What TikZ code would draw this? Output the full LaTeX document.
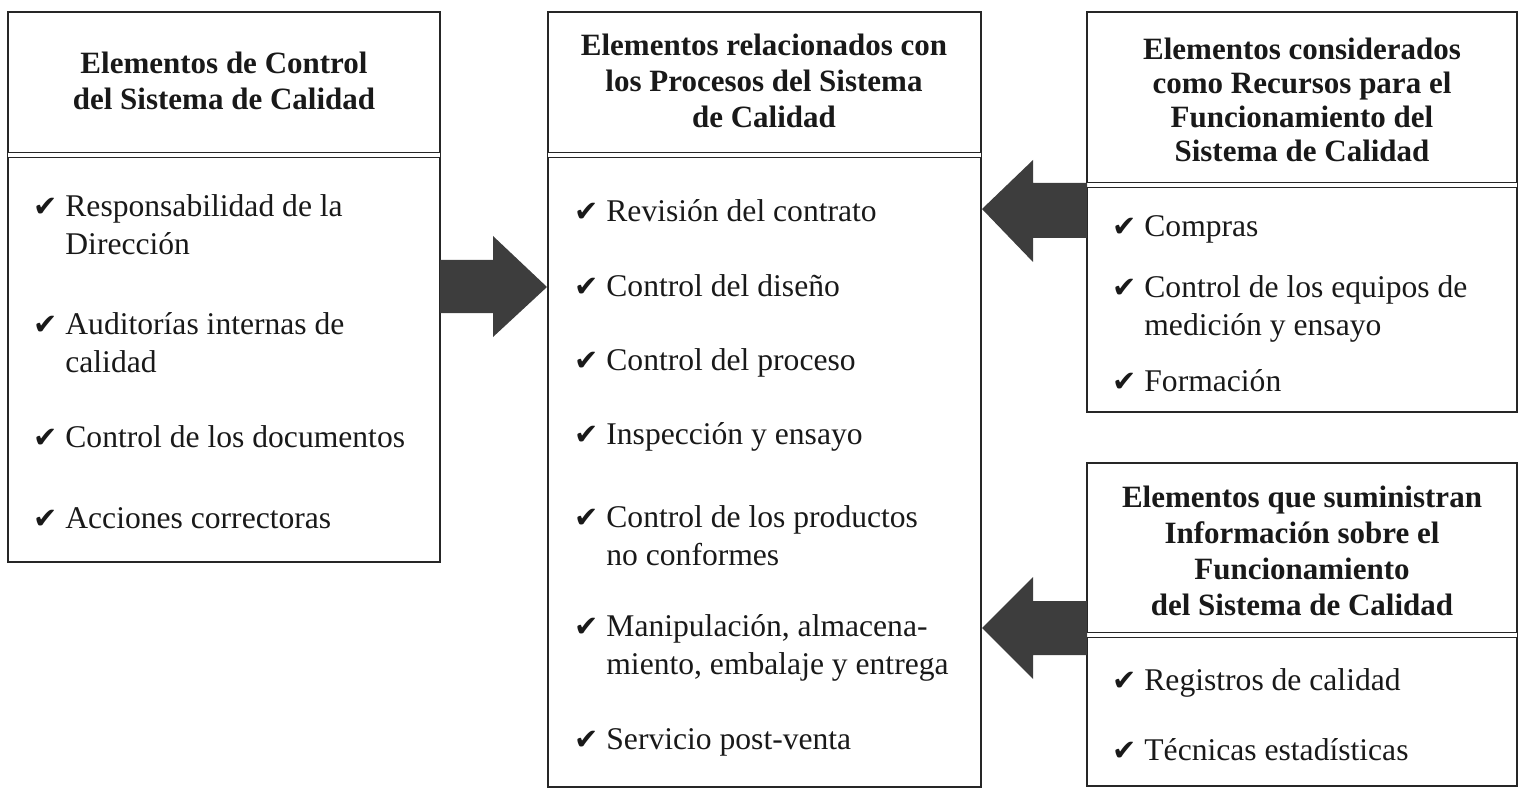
\documentclass[tikz,border=0pt]{standalone}
\usepackage{fontspec}
\setmainfont{Liberation Serif}
\newfontfamily\checkfont{DejaVu Sans}
\usetikzlibrary{calc}

\newcommand{\marca}{\makebox[16pt][l]{\checkfont\fontsize{14.5}{14.5}\selectfont ✔}}

\tikzset{
  caja/.style={draw=black!85, line width=1pt, anchor=north west, inner sep=0pt, outer sep=0pt},
  titulo/.style={anchor=base, inner sep=0pt, text=black!90, font=\bfseries\fontsize{15.5}{18}\selectfont},
  punto/.style={anchor=base west, inner sep=0pt, text=black!90, font=\fontsize{15.8}{19}\selectfont},
  doble/.style={draw=black!85, double, double distance=1.6pt, line width=0.9pt},
  flecha/.style={fill=black!76}
}

\begin{document}
\begin{tikzpicture}[x=0.5pt, y=-0.5pt]
            \useasboundingbox (0,0) rectangle (1520,791);

            % cajas
            \node[caja, minimum width=216pt, minimum height=275pt] (control) at (8,12) {};
            \node[caja, minimum width=216.5pt, minimum height=387.5pt] (procesos) at (548,12) {};
            \node[caja, minimum width=215pt, minimum height=200pt] (recursos) at (1087,12) {};
            \node[caja, minimum width=215pt, minimum height=161.5pt] (info) at (1087,463) {};

            \draw[doble] ($(control.north west)+(0,143)$) -- ($(control.north east)+(0,143)$);
            \draw[doble] ($(procesos.north west)+(0,143)$) -- ($(procesos.north east)+(0,143)$);
            \draw[doble] ($(recursos.north west)+(0,173)$) -- ($(recursos.north east)+(0,173)$);
            \draw[doble] ($(info.north west)+(0,172)$) -- ($(info.north east)+(0,172)$);

            % titulos
            \node[titulo] (controlT) at (224,74) {\begin{tabular}[t]{@{}c@{}}Elementos de Control\\del Sistema de Calidad\end{tabular}};
            \node[titulo] (procesosT) at (764,56) {\begin{tabular}[t]{@{}c@{}}Elementos relacionados con\\los Procesos del Sistema\\de Calidad\end{tabular}};
            \node[titulo, font=\bfseries\fontsize{15.5}{17}\selectfont] (recursosT) at (1302,60) {\begin{tabular}[t]{@{}c@{}}Elementos considerados\\como Recursos para el\\Funcionamiento del\\Sistema de Calidad\end{tabular}};
            \node[titulo] (infoT) at (1302,507) {\begin{tabular}[t]{@{}c@{}}Elementos que suministran\\Información sobre el\\Funcionamiento\\del Sistema de Calidad\end{tabular}};

            % elementos de control
            \node[punto] (control1) at (33,217) {\begin{tabular}[t]{@{}l@{}l@{}}\marca & Responsabilidad de la\\ & Dirección\end{tabular}};
            \node[punto] (control2) at (33,335) {\begin{tabular}[t]{@{}l@{}l@{}}\marca & Auditorías internas de\\ & calidad\end{tabular}};
            \node[punto] (control3) at (33,447) {\marca Control de los documentos};
            \node[punto] (control4) at (33,528) {\marca Acciones correctoras};

            % procesos
            \node[punto] (procesos1) at (574,222) {\marca Revisión del contrato};
            \node[punto] (procesos2) at (574,297) {\marca Control del diseño};
            \node[punto] (procesos3) at (574,370) {\marca Control del proceso};
            \node[punto] (procesos4) at (574,444) {\marca Inspección y ensayo};
            \node[punto] (procesos5) at (574,527) {\begin{tabular}[t]{@{}l@{}l@{}}\marca & Control de los productos\\ & no conformes\end{tabular}};
            \node[punto] (procesos6) at (574,636) {\begin{tabular}[t]{@{}l@{}l@{}}\marca & Manipulación, almacena-\\ & miento, embalaje y entrega\end{tabular}};
            \node[punto] (procesos7) at (574,749) {\marca Servicio post-venta};

            % recursos
            \node[punto] (recursos1) at (1112,237) {\marca Compras};
            \node[punto] (recursos2) at (1112,298) {\begin{tabular}[t]{@{}l@{}l@{}}\marca & Control de los equipos de\\ & medición y ensayo\end{tabular}};
            \node[punto] (recursos3) at (1112,391) {\marca Formación};

            % informacion
            \node[punto] (info1) at (1112,690) {\marca Registros de calidad};
            \node[punto] (info2) at (1112,760) {\marca Técnicas estadísticas};

            % flechas
            \fill[flecha] ($(control.north east)+(0,248)$) -- ($(control.north east)+(53,248)$)
                -- ($(control.north east)+(53,224)$) -- ($(procesos.north west)+(-1,275)$)
                -- ($(control.north east)+(53,325)$) -- ($(control.north east)+(53,301)$)
                -- ($(control.north east)+(0,301)$) -- cycle;
            \fill[flecha] ($(recursos.north west)+(0,171)$) -- ($(recursos.north west)+(-54,171)$)
                -- ($(recursos.north west)+(-54,148)$) -- ($(procesos.north east)+(1,197)$)
                -- ($(recursos.north west)+(-54,250)$) -- ($(recursos.north west)+(-54,226)$)
                -- ($(recursos.north west)+(0,226)$) -- cycle;
            \fill[flecha] ($(info.north west)+(0,138)$) -- ($(info.north west)+(-54,138)$)
                -- ($(info.north west)+(-54,114)$) -- ($(procesos.north east)+(1,616)$)
                -- ($(info.north west)+(-54,216)$) -- ($(info.north west)+(-54,192)$)
                -- ($(info.north west)+(0,192)$) -- cycle;
\end{tikzpicture}
\end{document}
